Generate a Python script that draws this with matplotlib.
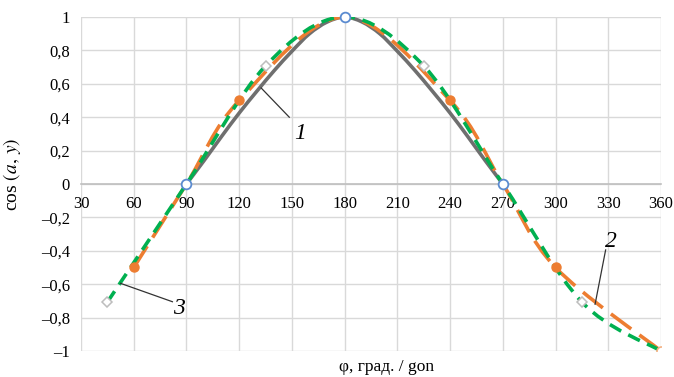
import numpy as np
import matplotlib
matplotlib.use("Agg")
import matplotlib.pyplot as plt
from matplotlib.path import Path
from matplotlib.patches import PathPatch

# ---- data ----
gray_x = [90, 100, 110, 120, 130, 140, 150, 160, 170, 180,
          190, 200, 210, 220, 230, 240, 250, 260, 270]
gray_y = [0.0, 0.14, 0.285, 0.425, 0.555, 0.68, 0.795, 0.90, 0.97, 1.0,
          0.97, 0.90, 0.795, 0.68, 0.555, 0.425, 0.285, 0.14, 0.0]
gray_mark_x = [90, 180, 270]
gray_mark_y = [0.0, 1.0, 0.0]

orange_x = [60, 90, 120, 180, 240, 270, 300, 360]
orange_y = [-0.5, 0.0, 0.5, 1.0, 0.5, 0.0, -0.5, -1.0]
orange_filled_x = [60, 120, 240, 300]
orange_filled_y = [-0.5, 0.5, 0.5, -0.5]
orange_open_x = [360]
orange_open_y = [-1.0]

green_x = [45, 90, 135, 180, 225, 270, 315, 360]
green_y = [-0.707, 0.0, 0.707, 1.0, 0.707, 0.0, -0.707, -1.0]
green_mark_x = [45, 135, 225, 315]
green_mark_y = [-0.707, 0.707, 0.707, -0.707]

x_ticks = [30, 60, 90, 120, 150, 180, 210, 240, 270, 300, 330, 360]
y_ticks = [-1, -0.8, -0.6, -0.4, -0.2, 0, 0.2, 0.4, 0.6, 0.8, 1]
y_tick_labels = ["–1", "–0,8", "–0,6", "–0,4", "–0,2", "0", "0,2", "0,4", "0,6", "0,8", "1"]

plt.rcParams['font.family'] = ['Liberation Serif', 'DejaVu Serif']
plt.rcParams['mathtext.fontset'] = 'stix'


def smooth_path(xs, ys):
    """Excel-style smoothed line as cubic Bezier path (library draws the curve)."""
    pts = np.column_stack([xs, ys]).astype(float)
    n = len(pts)
    verts = [pts[0]]
    codes = [Path.MOVETO]
    for i in range(n - 1):
        p0 = pts[i - 1] if i > 0 else pts[i]
        p1 = pts[i]
        p2 = pts[i + 1]
        p3 = pts[i + 2] if i + 2 < n else pts[i + 1]
        c1 = p1 + (p2 - p0) / 6.0
        c2 = p2 - (p3 - p1) / 6.0
        verts += [c1, c2, p2]
        codes += [Path.CURVE4] * 3
    return Path(verts, codes)


fig = plt.figure(figsize=(6.74, 3.77), dpi=100)
ax = fig.add_axes([0.1202, 0.069, 0.8605, 0.8859])

ax.set_xlim(30, 360)
ax.set_ylim(-1, 1)
ax.set_xticks(x_ticks)
ax.set_yticks(y_ticks)
ax.set_yticklabels(y_tick_labels)
ax.grid(True, color='#d9d9d9', linewidth=1.0)
ax.set_axisbelow(True)
for s in ['top', 'right', 'left']:
    ax.spines[s].set_visible(False)
ax.spines['bottom'].set_position(('data', 0))
ax.spines['bottom'].set_color('#bfbfbf')
ax.spines['bottom'].set_linewidth(1.2)
ax.spines['bottom'].set_zorder(1.5)
ax.tick_params(axis='both', length=0, labelsize=12, colors='black')
ax.tick_params(axis='x', pad=9)
ax.tick_params(axis='y', pad=8)

lw = 2.6
# curve 1 (gray)
ax.add_patch(PathPatch(smooth_path(gray_x, gray_y), facecolor='none',
                       edgecolor='#6f6f6f', linewidth=lw, zorder=3, capstyle='butt'))
# curve 2 (orange)
ax.add_patch(PathPatch(smooth_path(orange_x, orange_y), facecolor='none',
                       edgecolor='#ED7D31', linewidth=lw, zorder=4,
                       linestyle=(0, (7, 2.8)), capstyle='butt'))
# curve 3 (green)
ax.add_patch(PathPatch(smooth_path(green_x, green_y), facecolor='none',
                       edgecolor='#00B050', linewidth=lw, zorder=5,
                       linestyle=(0, (3.6, 2.2)), capstyle='butt'))

ax.plot(orange_filled_x, orange_filled_y, 'o', ms=6.5, color='#ED7D31',
        mec='#ED7D31', zorder=6, linestyle='none')
ax.plot(orange_open_x, orange_open_y, 'o', ms=6.5, mfc='white',
        mec='#F4B183', mew=1.2, zorder=6, linestyle='none')
ax.plot(gray_mark_x, gray_mark_y, 'o', ms=7, mfc='white',
        mec='#5B8BD0', mew=1.3, zorder=7, linestyle='none', clip_on=False)
ax.plot(green_mark_x, green_mark_y, 'D', ms=5.5, mfc='white',
        mec='#bdbdbd', mew=1.1, zorder=7, linestyle='none')

# leader lines and labels
def leader(x1, y1, x2, y2):
    ax.plot([x1, x2], [y1, y2], color='#333333', linewidth=0.9, zorder=8)

leader(132.5, 0.575, 148.5, 0.40)
ax.text(151, 0.30, '1', fontsize=17, style='italic', ha='left', va='center', zorder=9)

leader(322.5, -0.72, 328.5, -0.395)
ax.text(328, -0.345, '2', fontsize=17, style='italic', ha='left', va='center', zorder=9)

leader(52.5, -0.595, 82, -0.705)
ax.text(82.5, -0.745, '3', fontsize=17, style='italic', ha='left', va='center', zorder=9)

ax.set_xlabel('φ, град. / gon', fontsize=12.5, labelpad=0)
ax.xaxis.set_label_coords(0.527, -0.025)
ax.set_ylabel(r'cos $(a,\, y)$', fontsize=14)
ax.yaxis.set_label_coords(-0.1, 0.53)

fig.savefig('out.png', dpi=100)
